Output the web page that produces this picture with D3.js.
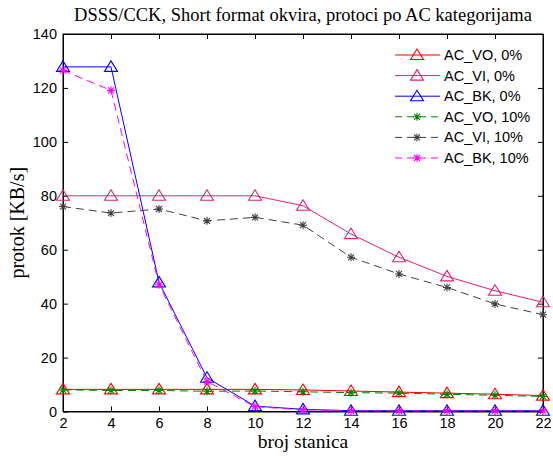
<!DOCTYPE html>
<html><head><meta charset="utf-8">
<script src="https://cdn.jsdelivr.net/npm/d3@7/dist/d3.min.js"></script>
<style>body{margin:0;background:#fff}svg{display:block}</style>
</head><body>
<script>
const stations = [2, 4, 6, 8, 10, 12, 14, 16, 18, 20, 22];
const acVo0  = [8.2, 8.2, 8.2, 8.2, 8.2, 8.0, 7.6, 7.2, 6.8, 6.4, 5.9];
const acVi0  = [80, 80, 80, 80, 80, 76.3, 65.8, 57.2, 50.1, 44.8, 40.5];
const acBk0  = [127.8, 127.8, 47.9, 12.5, 2.0, 0.8, 0.3, 0.3, 0.3, 0.3, 0.3];
const acVo10 = [8.0, 7.8, 7.8, 7.5, 7.6, 7.3, 7.0, 6.8, 6.4, 6.0, 5.6];
const acVi10 = [76.0, 73.6, 75.1, 70.7, 72.0, 69.1, 57.2, 51.0, 46.0, 39.9, 35.9];
const acBk10 = [126.5, 119.1, 47.0, 11.1, 1.8, 0.6, 0.2, 0.2, 0.2, 0.2, 0.2];
const xTicks = [2, 4, 6, 8, 10, 12, 14, 16, 18, 20, 22];
const yTicks = [0, 20, 40, 60, 80, 100, 120, 140];
const seriesNames = ["AC_VO, 0%", "AC_VI, 0%", "AC_BK, 0%", "AC_VO, 10%", "AC_VI, 10%", "AC_BK, 10%"];
const seriesValues = [acVo0, acVi0, acBk0, acVo10, acVi10, acBk10];
const seriesColors = ["#ff0000", "#e0207a", "#0000ff", "#008000", "#404040", "#ff00ff"];
const seriesDashed = [false, false, false, true, true, true];
const seriesMarker = ["tri", "tri", "tri", "star", "star", "star"];

const W = 553, H = 456;
const L = 63, R = 543, T = 34, B = 411.5;
const svg = d3.select("body").append("svg").attr("width", W).attr("height", H);
const x = d3.scaleLinear().domain([2, 22]).range([L, R]);
const y = d3.scaleLinear().domain([0, 140]).range([B, T]);

svg.append("rect").attr("x", L).attr("y", T).attr("width", R - L).attr("height", B - T)
  .attr("fill", "none").attr("stroke", "#000").attr("stroke-width", 1);

const tickFont = "Liberation Sans, Arial, sans-serif";
const xAxisB = d3.axisBottom(x).tickValues(xTicks).tickSizeInner(-5).tickSizeOuter(0).tickPadding(6);
const gxb = svg.append("g").attr("transform", `translate(0,${B})`).call(xAxisB);
const xAxisT = d3.axisTop(x).tickValues(xTicks).tickSizeInner(-5).tickSizeOuter(0).tickFormat("");
const gxt = svg.append("g").attr("transform", `translate(0,${T})`).call(xAxisT);
const yAxisL = d3.axisLeft(y).tickValues(yTicks).tickSizeInner(-5).tickSizeOuter(0).tickPadding(6);
const gyl = svg.append("g").attr("transform", `translate(${L},0)`).call(yAxisL);
const yAxisR = d3.axisRight(y).tickValues(yTicks).tickSizeInner(-5).tickSizeOuter(0).tickFormat("");
const gyr = svg.append("g").attr("transform", `translate(${R},0)`).call(yAxisR);
[gxb, gxt, gyl, gyr].forEach(g => {
  g.select(".domain").attr("stroke", "#000");
  g.selectAll(".tick line").attr("stroke", "#000");
  g.selectAll("text").attr("font-family", tickFont).attr("font-size", 14.5).attr("fill", "#000");
});

const triPath = "M0,-6L6.5,4.5L-6.5,4.5Z";
const starPath = "M-4,0L4,0M0,-4L0,4M-3,-3L3,3M-3,3L3,-3";
function marker(g, type, cx, cy, color) {
  g.append("path").attr("d", type === "tri" ? triPath : starPath)
    .attr("transform", `translate(${cx},${cy})`)
    .attr("fill", "none").attr("stroke", color).attr("stroke-width", 1.1);
}

const line = d3.line().x((d, i) => x(stations[i])).y(d => y(d));
const plot = svg.append("g");
seriesValues.forEach((vals, s) => {
  const g = plot.append("g");
  g.append("path").datum(vals).attr("d", line).attr("fill", "none")
    .attr("stroke", seriesColors[s]).attr("stroke-width", 1)
    .attr("stroke-dasharray", seriesDashed[s] ? "8,5" : null);
  vals.forEach((v, i) => marker(g, seriesMarker[s], x(stations[i]), y(v), seriesColors[s]));
});

const lg = svg.append("g");
seriesNames.forEach((name, s) => {
  const yy = 55 + s * 20.6;
  lg.append("line").attr("x1", 395).attr("x2", 440).attr("y1", yy).attr("y2", yy)
    .attr("stroke", seriesColors[s]).attr("stroke-width", 1)
    .attr("stroke-dasharray", seriesDashed[s] ? "7,5" : null);
  marker(lg, seriesMarker[s], 417, yy, seriesColors[s]);
  lg.append("text").attr("x", 444).attr("y", yy + 5).text(name)
    .attr("font-family", tickFont).attr("font-size", 14.5).attr("fill", "#000");
});

const serif = "Liberation Serif, Times New Roman, serif";
svg.append("text").attr("x", (L + R) / 2).attr("y", 21).attr("text-anchor", "middle")
  .attr("font-family", serif).attr("font-size", 18.5).text("DSSS/CCK, Short format okvira, protoci po AC kategorijama");
svg.append("text").attr("x", (L + R) / 2).attr("y", 448).attr("text-anchor", "middle")
  .attr("font-family", serif).attr("font-size", 19.5).text("broj stanica");
svg.append("text").attr("transform", `translate(24,${(T + B) / 2}) rotate(-90)`).attr("text-anchor", "middle")
  .attr("font-family", serif).attr("font-size", 20).text("protok [KB/s]");
</script>
</body></html>
